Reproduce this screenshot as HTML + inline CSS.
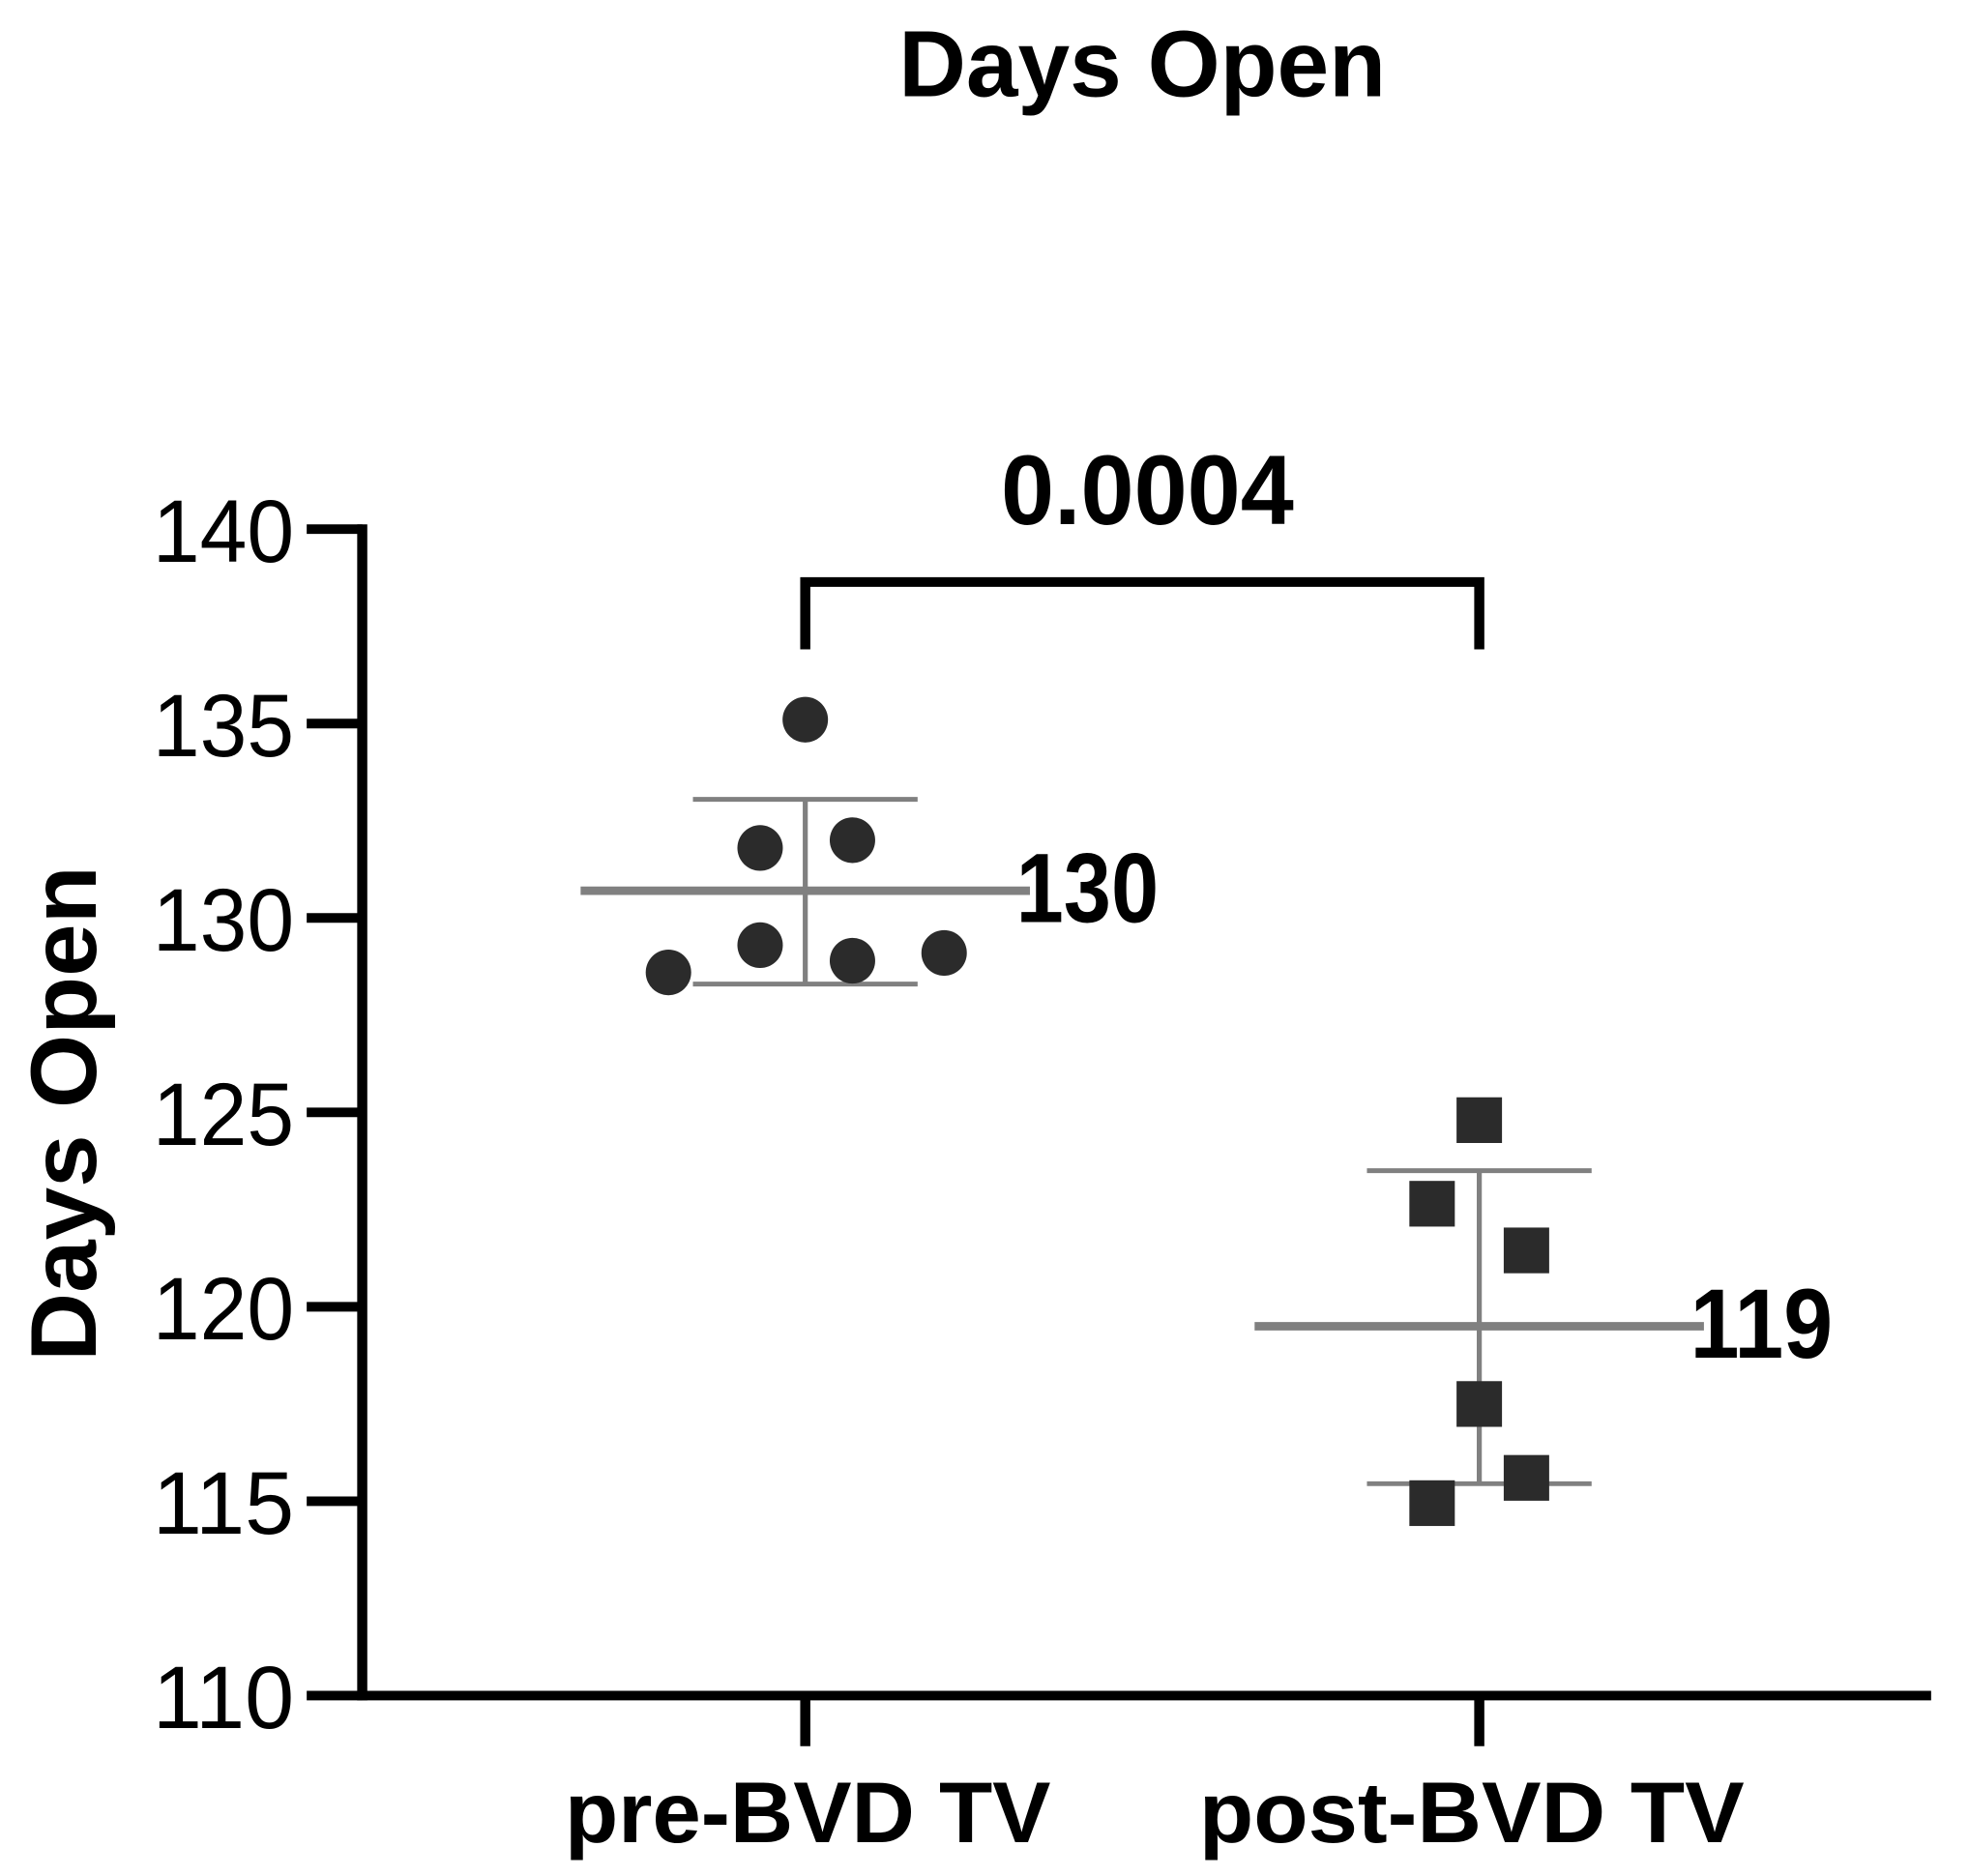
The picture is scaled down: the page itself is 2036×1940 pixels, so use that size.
<!DOCTYPE html>
<html><head><meta charset="utf-8"><style>
html,body{margin:0;padding:0;background:#fff;}
svg{display:block;}
text{font-family:"Liberation Sans",Arial,sans-serif;}
</style></head><body>
<svg id="chart" width="2036" height="1940" viewBox="0 0 1560 1560" preserveAspectRatio="none" xmlns="http://www.w3.org/2000/svg">
<text x="905" y="80" text-anchor="middle" font-size="78" font-weight="bold" textLength="386" lengthAdjust="spacingAndGlyphs">Days Open</text>
<text transform="translate(76,926) rotate(-90)" text-anchor="middle" font-size="74" font-weight="bold" textLength="412" lengthAdjust="spacingAndGlyphs">Days Open</text>
<g id="plot"></g>
</svg>
<script>
const categories = ["pre-BVD TV", "post-BVD TV"];
const preValues = [135.1, 131.8, 132.0, 129.3, 128.9, 129.1, 128.6];
const preJitter = [0, -0.067, 0.07, -0.067, 0.07, 0.206, -0.203];
const postValues = [124.8, 122.65, 121.45, 117.5, 115.6, 114.95];
const postJitter = [0, -0.07, 0.07, 0, 0.07, -0.07];
const means = [130.7, 119.5];
const sdUpper = [133.05, 123.5];
const sdLower = [128.3, 115.45];
const meanLabels = ["130", "119"];
const yTicks = [110, 115, 120, 125, 130, 135, 140];
const pLabel = "0.0004";

const NS = "http://www.w3.org/2000/svg";
const g = document.getElementById("plot");
const yMin = 110, yMax = 140, yTop = 440, yBot = 1410;
const y = v => yBot - (v - yMin) / (yMax - yMin) * (yBot - yTop);
const x = i => 638 + i * 534;
const labelLen = [385, 432];
const labelShift = [2, -6];
function mk(tag, attrs, parent) {
  const e = document.createElementNS(NS, tag);
  for (const k in attrs) e.setAttribute(k, attrs[k]);
  (parent || g).appendChild(e);
  return e;
}
let e = mk("line", {x1: 287, y1: yTop - 4, x2: 287, y2: yBot + 4, stroke: "#000", "stroke-width": 8});


e = mk("line", {x1: 283, y1: yBot, x2: 1530, y2: yBot, stroke: "#000", "stroke-width": 8});


yTicks.forEach(t => {
  const tk = mk("line", {x1: 243, y1: y(t), x2: 287, y2: y(t), stroke: "#000", "stroke-width": 8});
  
  
  const lb = mk("text", {x: 233, y: y(t) + 27, "text-anchor": "end", "font-size": 74, textLength: 112, lengthAdjust: "spacingAndGlyphs"});
  lb.textContent = t;
  
  
});
categories.forEach((c, i) => {
  const tk = mk("line", {x1: x(i), y1: yBot, x2: x(i), y2: 1452, stroke: "#000", "stroke-width": 8});
  
  
  const lb = mk("text", {x: x(i) + labelShift[i], y: 1532, "text-anchor": "middle", "font-size": 72, "font-weight": "bold", textLength: labelLen[i], lengthAdjust: "spacingAndGlyphs"});
  lb.textContent = c;
  
  
});
categories.forEach((c, i) => {
  const cx = x(i);
  const v = mk("line", {x1: cx, y1: y(sdUpper[i]), x2: cx, y2: y(sdLower[i]), stroke: "#808080", "stroke-width": 4});
  
  
  [sdUpper[i], sdLower[i]].forEach(s => {
    const cap = mk("line", {x1: cx - 89, y1: y(s), x2: cx + 89, y2: y(s), stroke: "#808080", "stroke-width": 4});
    
    
  });
  const m = mk("line", {x1: cx - 178, y1: y(means[i]), x2: cx + 178, y2: y(means[i]), stroke: "#808080", "stroke-width": 7});
  
  
  const lb = mk("text", {x: cx + 167, y: y(means[i]) + 26, "font-size": 82, "font-weight": "bold", textLength: 113, lengthAdjust: "spacingAndGlyphs"});
  lb.textContent = meanLabels[i];
  
  
});
preValues.forEach((v, k) => {
  const p = mk("ellipse", {cx: x(0 + preJitter[k]), cy: y(v), rx: 18, ry: 19, fill: "#2b2b2b"});
  
  
});
postValues.forEach((v, k) => {
  const p = mk("rect", {x: x(1 + postJitter[k]) - 18, y: y(v) - 19, width: 36, height: 38, fill: "#2b2b2b"});
  
  
});
const br = mk("polyline", {points: `${x(0)},540 ${x(0)},484 ${x(1)},484 ${x(1)},540`, fill: "none", stroke: "#000", "stroke-width": 8});


const pl = mk("text", {x: 909, y: 436, "text-anchor": "middle", "font-size": 82, "font-weight": "bold", textLength: 232, lengthAdjust: "spacingAndGlyphs"});
pl.textContent = pLabel;


</script>
</body></html>
